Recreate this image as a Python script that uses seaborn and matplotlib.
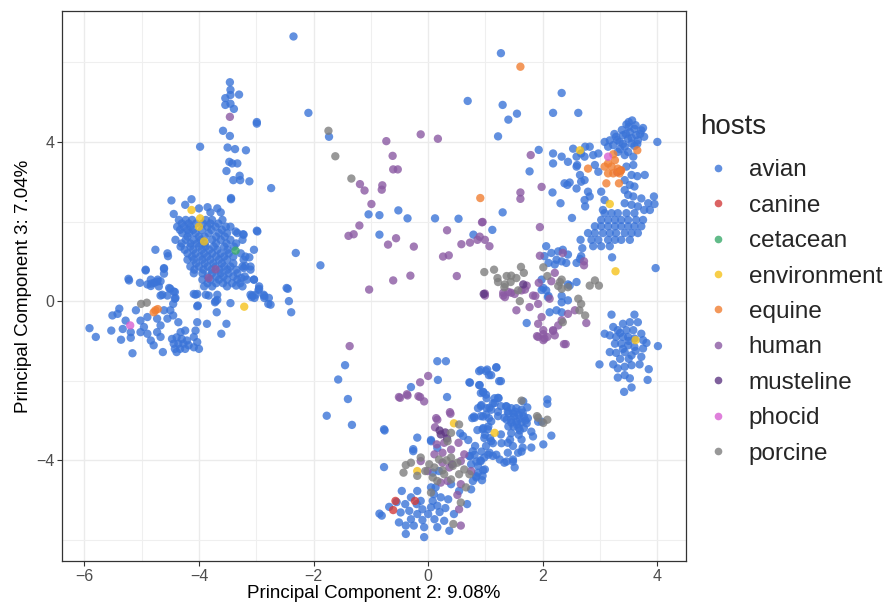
import matplotlib
matplotlib.use("Agg")
import matplotlib.pyplot as plt
from matplotlib.lines import Line2D
import seaborn as sns
import pandas as pd

# ---------------- data (PC2, PC3) per host ----------------
avian_pts = [
    (-2.35, 6.65), (-2.09, 4.73), (-1.73, 4.13), (0.69, 5.03), (1.27, 6.23), (1.3, 4.93), (1.55, 4.71),
    (1.4, 4.56), (2.18, 4.73), (2.62, 4.73), (2.33, 5.23), (1.22, 4.14), (1.93, 3.8), (1.77, 3.26),
    (2.17, 2.73), (2.31, 2.46), (1.3, 2.23), (1.12, 1.79), (2.51, 2.09),
    (-1.04, 2.18), (-0.85, 2.16), (-0.52, 2.28), (-0.36, 2.08), (0.12, 2.08), (0.53, 2.07), (-0.85, 1.67), (0.79, 1.67),
    (-2.31, 1.21), (-1.88, 0.9), (-2.47, 0.33), (-2.45, 0.31), (-2.43, 0.0), (-2.39, -0.28),
    # left streak
    (-3.46, 5.5), (-3.45, 5.31), (-3.45, 5.18), (-3.54, 5.1), (-3.3, 5.19), (-3.54, 4.93), (-3.45, 4.96),
    (-3.39, 4.83), (-2.99, 4.5), (-2.99, 4.46), (-3.58, 4.28), (-3.46, 4.15), (-3.98, 3.88), (-3.5, 3.86),
    (-3.37, 3.82), (-3.18, 3.79), (-3.47, 3.5), (-3.33, 3.46), (-3.42, 3.46), (-3.52, 3.27), (-3.29, 3.15),
    (-3.28, 3.04), (-3.4, 3.04), (-3.12, 3.01), (-2.74, 2.84), (-3.44, 2.56),
    # left upper cluster
    (-4.13, 2.56), (-4.48, 2.53), (-4.24, 2.42), (-4.0, 2.33), (-3.85, 2.36), (-3.68, 2.33), (-3.44, 2.59),
    (-4.44, 2.19), (-3.8, 2.23), (-3.62, 2.23),
    (-4.35, 2.04), (-4.23, 2.04), (-4.12, 2.04), (-3.88, 2.04), (-3.77, 2.04), (-3.59, 2.04),
    (-4.3, 1.95), (-4.18, 1.95), (-4.05, 1.95), (-3.93, 1.95), (-3.8, 1.95), (-3.66, 1.95),
    (-4.38, 1.87), (-4.26, 1.87), (-4.15, 1.87), (-3.85, 1.87), (-3.71, 1.87), (-3.53, 1.87), (-3.45, 1.87),
    (-4.33, 1.79), (-4.2, 1.79), (-4.1, 1.79), (-3.95, 1.79), (-3.78, 1.79), (-3.6, 1.79),
    (-4.29, 1.71), (-4.17, 1.71), (-4.06, 1.71), (-3.83, 1.71), (-3.65, 1.71), (-3.51, 1.71), (-3.33, 1.71),
    (-4.2, 1.62), (-4.0, 1.62), (-3.9, 1.62), (-3.7, 1.62), (-3.55, 1.62),
    (-4.41, 1.54), (-4.23, 1.54), (-4.09, 1.54), (-3.97, 1.54), (-3.77, 1.54), (-3.62, 1.54), (-3.45, 1.54), (-3.24, 1.54),
    (-4.3, 1.45), (-4.15, 1.45), (-4.03, 1.45), (-3.9, 1.45), (-3.7, 1.45), (-3.52, 1.45), (-3.35, 1.45),
    (-4.32, 1.37), (-4.15, 1.37), (-4.0, 1.37), (-3.88, 1.37), (-3.74, 1.37), (-3.56, 1.37), (-3.39, 1.37),
    (-4.25, 1.29), (-4.1, 1.29), (-3.95, 1.29), (-3.82, 1.29), (-3.68, 1.29), (-3.5, 1.29),
    (-4.55, 1.2), (-4.2, 1.2), (-4.06, 1.2), (-3.91, 1.2), (-3.77, 1.2), (-3.62, 1.2), (-3.48, 1.2), (-3.27, 1.2),
    (-4.12, 1.12), (-3.98, 1.12), (-3.85, 1.12), (-3.7, 1.12), (-3.56, 1.12), (-3.4, 1.12),
    (-4.2, 1.04), (-4.09, 1.04), (-3.94, 1.04), (-3.8, 1.04), (-3.65, 1.04), (-3.51, 1.04), (-3.22, 1.04),
    (-4.05, 0.95), (-3.9, 0.95), (-3.75, 0.95), (-3.6, 0.95), (-3.4, 0.95),
    (-4.15, 0.87), (-4.0, 0.87), (-3.85, 0.87), (-3.71, 0.87), (-3.56, 0.87), (-3.45, 0.87), (-3.24, 0.87), (-3.1, 0.87),
    (-4.08, 0.79), (-3.92, 0.79), (-3.78, 0.79), (-3.64, 0.79), (-3.5, 0.79), (-3.35, 0.79),
    (-4.09, 0.7), (-3.94, 0.7), (-3.77, 0.7), (-3.62, 0.7), (-3.48, 0.7), (-3.33, 0.7),
    (-3.85, 0.62), (-3.7, 0.62), (-3.57, 0.62), (-3.4, 0.62), (-3.2, 0.62),
    (-3.94, 0.54), (-3.8, 0.54), (-3.65, 0.54), (-3.51, 0.54), (-3.33, 0.54), (-3.16, 0.54), (-3.04, 0.54),
    (-3.85, 0.45), (-3.7, 0.45), (-3.58, 0.45), (-3.42, 0.45), (-3.28, 0.45),
    (-3.91, 0.37), (-3.77, 0.37), (-3.51, 0.37), (-3.24, 0.37), (-2.95, 0.37),
    (-4.06, 0.16), (-3.88, 0.16), (-3.68, 0.16), (-3.1, 0.16), (-3.01, 0.16), (-2.87, 0.16),
    (-4.76, 1.29), (-4.93, 0.79), (-4.61, 0.83), (-3.36, 1.75), (-3.22, 1.67), (-2.98, 1.75), (-3.04, 1.29),
    (-3.19, 1.12), (-3.22, 0.83), (-3.1, 0.79), (-3.04, 0.54), (-2.78, 0.08), (-3.68, 0.03), (-2.75, -0.09),
    (-3.45, -0.05), (-4.54, 1.13), (-5.23, 0.56), (-5.03, 0.46), (-4.9, 0.42), (-4.78, 0.46), (-4.67, 0.5),
    (-4.84, 0.54), (-4.72, 0.54), (-2.99, 1.77), (-3.23, 1.68), (-3.12, 1.1), (-2.95, 0.31), (-2.86, 0.13),
    (-3.07, 0.14), (-3.19, 0.88), (-3.26, 0.58),
    (-4.84, 0.38), (-4.73, 0.49), (-4.7, 0.37), (-4.52, 0.33), (-4.44, 0.24), (-4.64, 0.16), (-4.41, 0.08),
    # lower left cluster
    (-5.91, -0.68), (-5.8, -0.9), (-5.53, -0.74), (-5.51, -0.36), (-5.42, -0.32), (-5.39, -0.19), (-5.36, -0.97),
    (-5.33, -0.7), (-5.28, -0.49), (-5.19, -0.78), (-5.19, -0.92), (-5.16, -1.31), (-5.1, -0.23), (-5.22, 0.52),
    (-4.93, 0.77), (-4.83, 0.44), (-4.61, 0.69), (-4.61, 0.81),
    (-4.67, 0.14), (-4.55, 0.14), (-4.5, 0.31), (-4.42, 0.23), (-4.42, 0.06), (-4.45, -0.07), (-4.5, -0.23),
    (-4.61, -0.23), (-4.73, -0.44), (-4.67, -0.61), (-4.55, -0.44), (-4.45, -0.36), (-4.36, -0.53), (-4.24, -0.74),
    (-4.32, -0.78), (-4.96, -0.65), (-5.02, -0.78), (-4.9, -0.82), (-4.84, -0.99), (-4.73, -0.78), (-4.67, -0.9),
    (-4.79, -1.11), (-4.63, -1.28), (-5.02, -0.49), (-4.9, -0.4),
    (-4.47, -0.95), (-4.39, -0.91), (-4.3, -0.95), (-4.21, -0.99), (-4.44, -1.07), (-4.36, -1.07), (-4.27, -1.07),
    (-4.18, -1.11), (-4.42, -1.2), (-4.33, -1.2), (-4.24, -1.2), (-4.39, -1.28),
    (-4.09, -0.9), (-4.03, -1.03), (-4.0, -1.2), (-4.09, -1.16), (-4.06, -0.74), (-4.03, -0.53), (-4.02, -0.11),
    (-3.86, -0.57), (-3.83, 0.14), (-3.72, -0.03), (-3.69, -0.28), (-4.09, 0.18), (-4.03, 0.18),
    (-3.52, -0.57), (-3.61, -0.82), (-3.71, 0.0), (-4.03, -0.13), (-3.35, 0.39), (-3.08, 0.1), (-3.03, 0.08),
    (-2.96, 0.28), (-2.86, 0.08), (-2.79, -0.07),
    # middle lower scattered
    (-1.45, -1.61), (-1.57, -1.97), (-1.4, -2.46), (-1.77, -2.88), (-1.33, -3.11), (-0.85, -5.34), (-0.77, -3.22),
    (-0.77, -4.17), (0.16, -1.51), (0.31, -1.51), (0.17, -1.98), (-0.3, -2.16), (0.33, -2.41),
    (0.72, -2.04), (0.89, -1.76), (1.01, -1.76), (1.06, -1.86), (1.19, -1.66), (1.24, -2.01), (0.89, -2.11),
    (0.96, -2.29), (0.77, -2.94), (-0.76, -3.25), (-0.26, -3.77), (-0.19, -3.43), (0.05, -3.52), (0.08, -4.31),
    (0.19, -4.27), (0.05, -3.49), (0.16, -3.69), (-0.26, -3.72),
    # bottom cluster, lower lobe
    (-0.46, -4.77), (-0.68, -5.17), (-0.81, -5.39), (-0.39, -5.64), (-0.25, -5.64), (-0.07, -5.68), (-0.07, -5.93),
    (-0.39, -5.85), (-0.3, -5.48), (-0.19, -5.35), (-0.1, -5.23), (0.08, -5.02), (0.22, -4.93), (-0.3, -4.93),
    (-0.13, -5.02), (0.05, -5.18), (0.16, -5.14), (0.11, -5.48), (0.28, -5.52), (0.37, -5.77), (-0.19, -4.77),
    (0.05, -4.68), (0.35, -4.98), (0.68, -5.1), (0.54, -4.77), (0.75, -4.73), (0.78, -4.52), (0.87, -4.31),
    (0.95, -4.39), (0.84, -4.43), (0.13, -4.68), (-0.48, -5.31), (-0.51, -5.56), (-0.33, -5.27), (0.16, -5.68),
    (-0.2, -5.1), (0.0, -5.35), (-0.4, -5.1), (0.2, -5.3), (-0.1, -5.5), (0.3, -5.2), (0.45, -5.35), (-0.55, -5.05),
    (0.1, -4.85), (0.4, -4.6),
    # bottom cluster, upper right lobe
    (0.92, -2.31), (1.01, -2.35), (1.22, -2.43), (0.92, -2.64), (1.07, -2.68), (1.16, -2.56), (1.27, -2.64),
    (1.36, -2.64), (1.39, -2.77), (0.81, -2.93), (0.92, -2.89), (1.01, -2.85), (1.1, -3.02), (1.22, -2.89),
    (1.33, -2.93), (1.04, -3.22), (0.95, -3.22), (1.27, -3.35), (1.1, -3.52), (1.01, -3.64), (1.07, -3.81),
    (0.98, -3.93), (1.13, -3.89), (1.25, -3.98), (1.33, -4.06), (0.92, -4.02), (0.87, -4.14), (0.78, -3.77),
    (0.72, -3.89), (0.82, -3.64), (0.75, -4.1), (1.39, -3.56), (1.48, -3.64), (1.39, -3.81), (1.48, -3.98),
    (1.51, -4.18), (1.57, -3.81), (1.65, -3.68), (1.8, -3.68), (2.01, -3.6), (2.08, -2.58), (2.15, -3.38),
    (0.92, -1.73), (1.03, -1.72), (1.19, -1.67), (1.1, -1.86), (0.73, -2.05), (0.9, -2.11), (1.27, -2.01),
    (0.96, -2.28), (1.02, -2.44), (1.16, -2.44), (1.23, -2.44), (1.13, -2.57), (0.93, -2.61), (0.87, -2.69),
    (1.02, -2.69), (1.1, -2.73), (1.22, -2.78), (0.8, -2.9), (0.96, -2.9), (1.06, -2.94), (1.37, -2.65),
    (1.45, -2.69), (1.54, -2.69), (1.63, -2.73), (1.4, -2.82), (1.49, -2.82), (1.58, -2.86), (1.67, -2.9),
    (1.74, -2.94), (1.37, -2.98), (1.45, -2.98), (1.54, -3.03), (1.63, -3.05), (1.72, -3.07), (1.4, -3.15),
    (1.49, -3.15), (1.58, -3.19), (1.67, -3.19), (1.45, -3.32), (1.58, -3.36), (1.63, -3.48), (1.43, -3.48),
    (1.05, -3.15), (0.96, -3.19), (0.99, -3.36), (1.08, -3.44), (1.13, -3.57), (1.28, -3.57), (1.8, -3.28),
    (1.83, -3.4), (1.63, -3.78), (1.48, -4.03), (1.37, -4.03), (1.19, -3.86), (1.05, -3.86), (0.93, -3.78),
    (0.81, -3.86), (0.73, -3.9), (0.84, -4.03), (0.99, -4.23), (0.84, -4.4), (1.92, -3.03), (1.98, -3.03),
    (2.08, -2.47), (1.73, -2.67), (1.66, -2.52),
    (1.5, -2.9), (1.6, -2.95), (1.55, -3.1), (1.7, -3.0), (1.45, -3.05), (1.65, -2.8), (1.52, -2.78), (1.6, -3.25),
    (0.61, -3.39), (0.7, -3.49), (0.56, -3.32), (0.86, -3.24), (0.98, -3.44), (0.91, -4.0), (0.96, -4.25), (0.94, -4.5),
    # right middle
    (2.06, 1.38), (2.03, 1.13), (2.15, 1.21), (2.27, 1.25), (2.35, 1.29), (2.44, 1.17), (2.24, 1.04), (2.33, 1.0),
    (2.41, 0.96), (2.1, 0.96), (2.21, 0.92), (2.59, 0.96), (2.65, 1.06), (2.66, 1.54), (2.69, 1.33), (2.67, 1.13),
    (3.21, 1.1), (3.97, 0.83),
    (1.98, 0.54), (2.01, 0.33), (2.44, 0.42), (2.59, 0.48), (2.1, 0.13), (2.33, 0.13), (1.72, -0.55), (1.98, 0.28),
    (2.09, 0.1), (2.06, 0.27), (2.12, -0.28), (2.24, -0.23), (2.33, -0.28), (2.33, -0.03), (2.47, 0.39), (2.44, 0.02),
    # upper right cluster
    (3.56, 4.54), (3.46, 4.44), (3.6, 4.33), (3.72, 4.29), (3.52, 4.25), (3.4, 4.17), (3.28, 4.13), (3.17, 4.04),
    (3.08, 4.0), (3.49, 4.08), (3.63, 4.17), (3.77, 4.13), (3.34, 4.0), (3.23, 3.92), (3.14, 3.88), (3.43, 3.88),
    (3.55, 3.96), (3.66, 4.04), (3.49, 3.75), (3.58, 3.63), (3.43, 3.67), (3.31, 3.75), (4.0, 4.0),
    (3.38, 4.3), (3.5, 4.38), (3.62, 4.42), (3.3, 4.05), (3.6, 3.9), (3.7, 4.2),
    (3.45, 4.2), (3.55, 4.1), (3.4, 3.95), (3.65, 3.95), (3.35, 3.82), (3.25, 4.2), (3.75, 4.35), (3.5, 4.5),
    (2.18, 3.71), (2.18, 3.46), (2.33, 3.63), (2.44, 3.5), (2.53, 3.83), (2.59, 3.63), (2.6, 3.42), (2.67, 3.71),
    (2.74, 3.88), (2.82, 3.88), (2.73, 3.63), (2.88, 3.67), (2.97, 3.71), (2.91, 3.42), (2.97, 3.25), (2.65, 3.17),
    (2.73, 3.04), (2.67, 3.0), (2.59, 2.83), (2.43, 2.92), (2.38, 2.96), (2.47, 2.98), (2.79, 2.75), (2.82, 2.63),
    (2.74, 2.38), (2.73, 2.54), (3.02, 2.75), (3.08, 2.54), (3.05, 2.29), (2.59, 3.38),
    (3.46, 3.38), (3.58, 3.42), (3.55, 3.17), (3.65, 3.14), (3.78, 3.17), (3.43, 3.04), (3.52, 2.92), (3.6, 2.88),
    (3.43, 2.79), (3.49, 2.67), (3.58, 2.63), (3.72, 2.58), (3.84, 2.46), (3.94, 2.63), (3.95, 2.44), (3.87, 2.29),
    (3.43, 2.46), (3.55, 2.42), (3.66, 2.38), (3.77, 2.29),
    (3.08, 2.21), (3.2, 2.21), (3.31, 2.21), (3.46, 2.21), (3.6, 2.21),
    (3.02, 2.04), (3.14, 2.04), (3.26, 2.04), (3.37, 2.04), (3.49, 2.04), (3.63, 2.04), (3.75, 2.04),
    (2.91, 1.88), (3.02, 1.88), (3.14, 1.88), (3.26, 1.88), (3.37, 1.88), (3.49, 1.88), (3.6, 1.88), (3.72, 1.88),
    (2.79, 1.71), (2.91, 1.71), (3.05, 1.71), (3.17, 1.71), (3.28, 1.71), (3.43, 1.71), (3.55, 1.71), (3.66, 1.71),
    (2.85, 1.54), (2.97, 1.54), (3.14, 1.54), (3.26, 1.54), (3.37, 1.54), (3.52, 1.54),
    (2.88, 1.38), (3.02, 1.38), (3.17, 1.38),
    # right mid cluster
    (3.2, -0.34), (3.6, -0.34), (3.4, -0.57), (3.52, -0.53), (3.66, -0.53), (3.23, -0.65), (3.31, -0.73),
    (3.46, -0.73), (3.58, -0.73), (3.72, -0.82), (3.08, -0.82), (3.17, -0.86), (3.28, -0.9), (3.4, -0.9),
    (3.49, -0.9), (3.6, -0.94), (3.75, -0.98), (3.81, -1.05), (4.01, -1.13), (3.26, -1.07), (3.37, -1.07),
    (3.49, -1.11), (3.6, -1.15), (3.75, -1.19), (3.17, -1.28), (3.28, -1.3), (3.43, -1.28), (3.55, -1.36),
    (3.72, -1.4), (2.99, -1.59), (3.23, -1.59), (3.31, -1.69), (3.43, -1.65), (3.55, -1.61), (3.69, -1.59),
    (3.85, -1.71), (3.31, -1.92), (3.43, -1.86), (3.52, -1.94), (3.42, -2.28), (3.55, -2.17), (3.83, -1.98),
    (3.35, -0.8), (3.5, -1.0), (3.4, -1.2), (3.62, -1.25), (3.35, -1.45), (3.5, -1.45),
]

canine_pts = [(-0.57, -5.02), (-0.61, -5.25), (-0.23, -5.02), (3.36, 3.28), (3.3, 3.24)]

cetacean_pts = [(-3.36, 1.27)]

environment_pts = [(-4.13, 2.29), (-3.98, 2.08), (-4.0, 1.87), (-3.91, 1.5), (-3.21, -0.14), (2.65, 3.79),
                   (3.17, 2.44), (3.27, 0.75), (1.16, -3.31), (0.45, -3.07), (-0.19, -4.27), (3.62, -0.98)]

equine_pts = [(-4.76, -0.23), (-4.79, -0.28), (-4.72, -0.2), (1.61, 5.89), (0.91, 2.59),
              (3.23, 3.69), (3.26, 3.54), (3.14, 3.46), (3.08, 3.38), (3.2, 3.38), (3.31, 3.33), (3.14, 3.21),
              (3.23, 3.21), (3.34, 3.21), (3.11, 2.96), (3.33, 2.96), (2.79, 3.33), (3.65, 3.79), (3.37, 3.29)]

human_pts = [
    (-3.46, 4.63), (-1.19, 2.94), (-1.11, 2.78), (-0.99, 2.44), (-1.2, 1.9), (-1.3, 1.68), (-1.39, 1.64),
    (-1.03, 0.29), (-0.73, 4.02), (-0.13, 4.19), (0.17, 4.08), (-0.62, 3.65), (-0.61, 3.31), (-0.53, 3.31),
    (-0.8, 2.91), (-0.81, 2.8), (-0.56, 1.58), (-0.7, 1.42), (-0.25, 1.37), (0.33, 1.78), (0.26, 1.12),
    (0.36, 1.15), (0.58, 1.43), (0.73, 1.47), (0.86, 1.54), (0.9, 1.62), (0.99, 1.54), (0.94, 1.98), (1.07, 1.38),
    (-0.31, 0.64), (-0.61, 0.52), (0.5, 0.63),
    (1.79, 3.67), (1.98, 2.87), (1.61, 2.73), (1.61, 2.57), (0.95, 1.99), (1.95, 1.86), (1.95, 1.14), (2.35, 1.21),
    (2.72, 1.0), (2.72, 0.9), (-1.37, -1.13), (-3.71, 0.8), (-3.83, 0.58),
    (0.99, 0.19), (1.31, 0.21), (1.45, 0.21), (1.69, 0.29), (1.87, 0.13), (1.93, 0.46), (2.15, 0.5), (2.21, 0.71),
    (0.99, 0.14), (1.31, 0.14), (1.4, 0.23), (1.51, 0.18), (1.63, 0.27), (1.72, 0.39), (1.83, 0.14), (1.92, -0.07),
    (1.54, -0.23), (1.77, -0.15), (1.98, -0.4), (1.92, -0.57), (2.01, -0.73), (1.92, -0.9), (2.03, -0.94),
    (2.18, -0.73), (2.27, -0.61), (2.33, -0.48), (2.44, -0.32), (2.56, -0.23), (2.4, -1.08), (2.76, -0.55),
    (1.34, 0.1), (2.12, 0.06), (2.21, -0.86), (1.9, -0.88), (2.01, -0.83), (2.08, -0.9), (2.01, -0.98),
    (2.18, -0.75), (2.37, -1.08),
    (-0.49, -2.43), (-0.36, -2.37), (-0.14, -2.41), (-0.07, -2.52), (-0.51, -2.41), (-0.37, -2.34), (-0.17, -2.39),
    (0.0, -1.88), (-0.14, -2.04), (0.38, -2.79), (0.14, -2.94), (0.12, -3.17), (0.16, -2.98), (0.39, -2.83),
    (0.28, -3.56), (0.15, -3.6), (0.11, -3.85), (0.25, -3.81), (0.4, -3.73), (0.53, -3.56), (0.57, -4.02),
    (0.25, -4.06), (-0.13, -4.02), (-0.01, -4.27), (0.34, -4.52), (0.22, -4.56), (0.57, -4.6), (0.75, -4.27),
    (0.51, -4.87), (0.54, -5.23), (0.57, -5.64), (0.37, -4.18), (0.63, -3.85),
]

musteline_pts = [(0.22, -3.35), (0.33, -3.45), (0.2, -3.25), (0.3, -3.3), (0.97, 0.18), (0.42, -4.1), (1.66, 0.42)]

phocid_pts = [(-5.2, -0.61), (3.14, 3.63)]

porcine_pts = [
    (-1.74, 4.28), (-1.62, 3.64), (-1.34, 3.08), (-5.01, -0.07), (-4.91, -0.04),
    (0.98, 0.73), (1.15, 0.79), (1.21, 0.58), (1.37, 0.63), (1.45, 0.64), (1.54, 0.58), (1.34, 0.42), (1.62, 0.86),
    (1.67, 0.71), (2.01, 0.85), (2.08, 0.63), (2.82, 0.39), (2.91, 0.52), (2.98, 0.39), (2.27, 0.38), (2.33, 0.54),
    (1.22, 0.48), (1.44, 0.48), (1.33, 0.35), (1.57, 0.27), (1.6, 0.0), (2.3, 0.48), (2.33, 0.31), (2.44, 0.35),
    (2.62, 0.06), (2.67, -0.07), (2.74, -0.36), (2.35, -0.53), (2.64, -0.23),
    (1.63, -2.5), (1.92, -2.93), (2.01, -3.06), (2.08, -2.98), (1.9, -2.89),
    (0.54, -3.1), (0.4, -3.31), (0.34, -3.52), (-0.13, -3.93), (-0.3, -4.06), (-0.39, -4.12), (-0.43, -4.31),
    (0.02, -4.1), (0.11, -4.18), (0.19, -3.98), (0.4, -3.93), (0.43, -4.14), (0.51, -4.06), (0.28, -4.35),
    (0.08, -4.43), (0.16, -4.52), (0.4, -4.48), (0.54, -4.35), (0.63, -4.23), (0.66, -4.68), (0.57, -5.06),
    (0.05, -4.81), (0.44, -5.6), (-0.19, -4.39), (-0.05, -4.27), (0.72, -4.35), (0.25, -4.25), (0.32, -4.0),
]

hosts = ["avian", "canine", "cetacean", "environment", "equine", "human", "musteline", "phocid", "porcine"]
host_points = [avian_pts, canine_pts, cetacean_pts, environment_pts, equine_pts,
               human_pts, musteline_pts, phocid_pts, porcine_pts]
host_colors = ["#3B74D8", "#D23C3C", "#3BAA6C", "#F5C21B", "#F07E32",
               "#8B5AA3", "#5F3883", "#D860D2", "#7E7E7E"]

x_ticks = [-6, -4, -2, 0, 2, 4]
y_ticks = [-4, 0, 4]

rows = []
for h, pts in zip(hosts, host_points):
    for (px, py) in pts:
        rows.append({"PC2": px, "PC3": py, "hosts": h})
df = pd.DataFrame(rows)

# ---------------- plot ----------------
sns.set_theme(style="white")
plt.rcParams["font.family"] = ["Liberation Sans", "DejaVu Sans"]

fig = plt.figure(figsize=(8.87, 6.06), dpi=100)
ax = fig.add_axes([62 / 887, 1 - 561 / 606, (686 - 62) / 887, (561 - 11) / 606])

palette = dict(zip(hosts, host_colors))
sns.scatterplot(data=df, x="PC2", y="PC3", hue="hosts", hue_order=hosts, palette=palette,
                s=36, alpha=0.8, linewidth=0, legend=False, ax=ax, zorder=3)

ax.set_xlim(-6.39, 4.5)
ax.set_ylim(-6.53, 7.29)
ax.set_xticks(x_ticks)
ax.set_yticks(y_ticks)
ax.set_xticks([-5, -3, -1, 1, 3], minor=True)
ax.set_yticks([-6, -2, 2, 6], minor=True)
ax.set_axisbelow(True)
ax.grid(which="major", color="#EBEBEB", linewidth=1.0)
ax.grid(which="minor", color="#EFEFEF", linewidth=0.8)
ax.tick_params(which="minor", length=0)
ax.tick_params(which="major", length=3.5, width=0.8, color="#333333", labelsize=11.5,
               labelcolor="#4D4D4D", pad=2, bottom=True, left=True)
for sp in ax.spines.values():
    sp.set_color("#333333")
    sp.set_linewidth(0.9)

ax.set_xlabel("Principal Component 2: 9.08%", fontsize=13.5, color="black", labelpad=1)
ax.set_ylabel("Principal Component 3: 7.04%", fontsize=13.5, color="black", labelpad=3)

handles = [Line2D([0], [0], marker="o", linestyle="", markersize=5.5, markeredgewidth=0,
                  markerfacecolor=c, alpha=0.8) for c in host_colors]
leg = fig.legend(handles, hosts, title="hosts", loc="upper left",
                 bbox_to_anchor=(700 / 887, 1 - 114 / 606), frameon=False,
                 fontsize=17.5, title_fontsize=20, handlelength=1.5, handletextpad=0.5,
                 labelspacing=0.55, borderpad=0, borderaxespad=0)
leg._legend_box.align = "left"
leg._legend_box.sep = 14

fig.savefig("out.png", dpi=100)
